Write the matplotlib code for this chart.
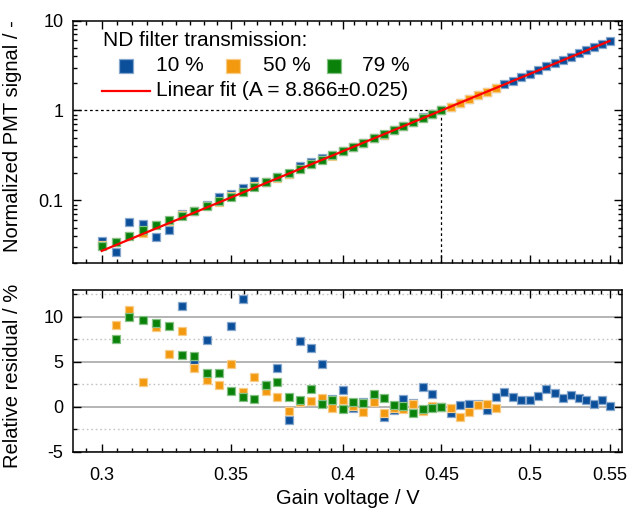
import matplotlib
matplotlib.use('Agg')
import matplotlib.pyplot as plt
from matplotlib.ticker import FixedLocator, FixedFormatter, NullFormatter
from matplotlib.lines import Line2D

plt.rcParams['font.family'] = ['Liberation Sans', 'DejaVu Sans']
plt.rcParams['axes.unicode_minus'] = False

# ---------------- data ----------------
voltage_10 = [0.300, 0.305, 0.310, 0.315, 0.320, 0.325, 0.330, 0.335, 0.340, 0.345,
              0.350, 0.355, 0.360, 0.365, 0.370, 0.375, 0.380, 0.385, 0.390, 0.395,
              0.400, 0.405, 0.410, 0.415, 0.420, 0.425, 0.430, 0.435, 0.440, 0.445,
              0.450, 0.455, 0.460, 0.465, 0.470, 0.475, 0.480, 0.485, 0.490, 0.495,
              0.500, 0.505, 0.510, 0.515, 0.520, 0.525, 0.530, 0.535, 0.540, 0.545,
              0.550]
signal_10 = [0.0358, 0.0265, 0.0572, 0.0543, 0.0397, 0.0471, 0.0711, 0.0765, 0.0895, 0.1105,
             0.1174, 0.1368, 0.1636, 0.1600, 0.1839, 0.1956, 0.2397, 0.2671, 0.2947, 0.3176,
             0.3583, 0.3921, 0.4403, 0.4936, 0.5362, 0.6000, 0.6736, 0.7433, 0.8374, 0.9187,
             1.000, 1.0948, 1.2173, 1.3418, 1.4748, 1.6091, 1.7916, 1.9736, 2.1504, 2.3444,
             2.5628, 2.8126, 3.0917, 3.3575, 3.6366, 3.9720, 4.3075, 4.6712, 5.0485, 5.5046,
             5.9310]
residual_10 = [30.3, -16.7, 55.7, 28.3, -18.4, -15.6, 11.2, 4.7, 7.4, 16.5,
               9.0, 12.0, 18.3, 2.4, 4.3, -1.5, 7.3, 6.5, 4.8, 0.9,
               1.8, -0.2, 0.5, 1.2, -1.15, -0.4, 0.8, 0.4, 2.2, 1.44,
               0.0, -0.74, 0.18, 0.33, 0.3, -0.37, 1.1, 1.59, 1.07, 0.7,
               0.7, 1.18, 1.92, 1.51, 0.92, 1.26, 0.96, 0.74, 0.26, 0.74,
               0.1]

voltage_50 = [0.300, 0.305, 0.310, 0.315, 0.320, 0.325, 0.330, 0.335, 0.340, 0.345,
              0.350, 0.355, 0.360, 0.365, 0.370, 0.375, 0.380, 0.385, 0.390, 0.395,
              0.400, 0.405, 0.410, 0.415, 0.420, 0.425, 0.430, 0.435, 0.440, 0.445,
              0.450, 0.455, 0.460, 0.465, 0.470, 0.475, 0.480]
signal_50 = [0.0318, 0.0347, 0.0407, 0.0435, 0.0530, 0.0591, 0.0693, 0.0762, 0.0858, 0.0971,
             0.1129, 0.1241, 0.1429, 0.1590, 0.1783, 0.1976, 0.2245, 0.2523, 0.2840, 0.3142,
             0.3544, 0.3933, 0.4354, 0.4905, 0.5386, 0.6018, 0.6662, 0.7428, 0.8153, 0.9063,
             1.000, 1.1007, 1.2018, 1.3294, 1.4730, 1.6204, 1.7686]
residual_50 = [15.7, 9.1, 10.8, 2.7, 8.9, 5.9, 8.4, 4.3, 3.0, 2.4,
               4.8, 1.6, 3.3, 1.7, 1.1, -0.5, 0.5, 0.6, 1.0, -0.2,
               0.7, 0.1, -0.6, 0.55, -0.7, -0.1, -0.3, 0.33, -0.5, 0.07,
               0.0, -0.2, -1.1, -0.6, 0.18, 0.33, -0.2]

voltage_79 = [0.300, 0.305, 0.310, 0.315, 0.320, 0.325, 0.330, 0.335, 0.340, 0.345,
              0.350, 0.355, 0.360, 0.365, 0.370, 0.375, 0.380, 0.385, 0.390, 0.395,
              0.400, 0.405, 0.410, 0.415, 0.420, 0.425, 0.430, 0.435, 0.440, 0.445,
              0.450]
signal_79 = [0.0315, 0.0342, 0.0404, 0.0464, 0.0532, 0.0609, 0.0676, 0.0771, 0.0864, 0.0983,
             0.1096, 0.1235, 0.1395, 0.1600, 0.1811, 0.2008, 0.2249, 0.2558, 0.2820, 0.3170,
             0.3509, 0.3949, 0.4400, 0.4945, 0.5474, 0.6034, 0.6689, 0.7354, 0.8169, 0.9039,
             1.000]
residual_79 = [14.7, 7.5, 10.0, 9.7, 9.3, 9.0, 5.8, 5.6, 3.7, 3.7,
               1.7, 1.1, 0.9, 2.4, 2.7, 1.1, 0.7, 2.0, 0.3, 0.7,
               -0.3, 0.5, 0.44, 1.37, 0.92, 0.16, 0.1, -0.67, -0.3, -0.2,
               0.0]

fit_voltage = [0.30, 0.55]
fit_signal = [0.02747, 5.925]

series_labels = ['10 %', '50 %', '79 %']
legend_title = 'ND filter transmission:'
fit_label = 'Linear fit (A = 8.866\u00b10.025)'

x_ticks = [0.30, 0.35, 0.40, 0.45, 0.50, 0.55]
x_ticklabels = ['0.3', '0.35', '0.4', '0.45', '0.5', '0.55']
y1_ticks = [0.1, 1, 10]
y1_ticklabels = ['0.1', '1', '10']
y2_ticks = [-5, 0, 5, 10]
y2_ticklabels = ['-5', '0', '5', '10']
y2_minor = [-2.5, 2.5, 7.5, 12.5]

# ---------------- style ----------------
colors = ['#0b4f9a', '#f2990f', '#0a820a']
edge_colors = ['#86a7cd', '#f8cc87', '#85c185']

W, H = 628, 512
fig = plt.figure(figsize=(W / 100, H / 100), dpi=100)

def fx(px):
    return px / W

def fy(py):
    return 1 - py / H

L, R = 73.3, 621.7
ax1 = fig.add_axes([fx(L), fy(263.3), (R - L) / W, (263.3 - 20.5) / H])
ax2 = fig.add_axes([fx(L), fy(451.5), (R - L) / W, (451.5 - 290.0) / H])

xmin, xmax = 0.29, 0.558
minor_x = []
step = 0.05 / 9
for k in range(-1, 47):
    v = 0.30 + k * step
    if xmin < v < xmax:
        minor_x.append(v)

for ax in (ax1, ax2):
    ax.set_xscale('log')
    ax.set_xlim(xmin, xmax)
    ax.xaxis.set_major_locator(FixedLocator(x_ticks))
    ax.xaxis.set_minor_locator(FixedLocator(minor_x))
    ax.xaxis.set_minor_formatter(NullFormatter())
    ax.tick_params(which='both', direction='in', top=True, right=True,
                   labelsize=13, width=1.0, colors='black')
    ax.tick_params(which='major', length=5.5)
    ax.tick_params(which='minor', length=3)
    ax.tick_params(axis='x', pad=11)
    ax.tick_params(axis='y', pad=7)
    for s in ax.spines.values():
        s.set_linewidth(1.1)

ax1.xaxis.set_major_formatter(NullFormatter())
ax2.xaxis.set_major_formatter(FixedFormatter(x_ticklabels))

# top panel
ax1.set_yscale('log')
ax1.set_ylim(0.02, 10)
ax1.yaxis.set_major_locator(FixedLocator(y1_ticks))
ax1.yaxis.set_major_formatter(FixedFormatter(y1_ticklabels))
ax1.yaxis.set_minor_formatter(NullFormatter())

ax1.plot([xmin, 0.45], [1, 1], color='black', lw=0.9, ls=(0, (2.2, 2.2)), zorder=1)
ax1.plot([0.45, 0.45], [0.02, 1], color='black', lw=0.9, ls=(0, (2.2, 2.2)), zorder=1)

series = [(voltage_10, signal_10, residual_10),
          (voltage_50, signal_50, residual_50),
          (voltage_79, signal_79, residual_79)]
for i, (v, s, r) in enumerate(series):
    ax1.plot(v, s, ls='none', marker='s', ms=5.4, mfc=colors[i], mec=edge_colors[i],
             mew=0.9, zorder=3 + i)
    ax2.plot(v, r, ls='none', marker='s', ms=5.4, mfc=colors[i], mec=edge_colors[i],
             mew=0.9, zorder=3 + i)

ax1.plot(fit_voltage, fit_signal, color='#ff0000', lw=1.6, zorder=10)

ax1.set_ylabel('Normalized PMT signal / -', fontsize=14.5)
ax1.yaxis.set_label_coords((22 - L) / (R - L), 0.525)

# bottom panel
ax2.set_ylim(-5, 13)
ax2.yaxis.set_major_locator(FixedLocator(y2_ticks))
ax2.yaxis.set_major_formatter(FixedFormatter(y2_ticklabels))
ax2.yaxis.set_minor_locator(FixedLocator(y2_minor))
ax2.set_axisbelow(True)
ax2.grid(True, axis='y', which='major', color='#a0a0a0', lw=1.1, ls='-')
ax2.grid(True, axis='y', which='minor', color='#c4c4c4', lw=1.0, ls=(0, (1.2, 2.0)))
ax2.set_ylabel('Relative residual / %', fontsize=14.5)
ax2.yaxis.set_label_coords((22 - L) / (R - L), 0.47)
ax2.set_xlabel('Gain voltage / V', fontsize=14.5, labelpad=4)

# legend (built by hand to follow the reference layout)
fig.text(fx(103), fy(40), legend_title, fontsize=15, ha='left', va='center')
mk_x = [126, 233, 334]
tx_x = [156, 263, 362]
for i in range(3):
    fig.add_artist(Line2D([fx(mk_x[i])], [fy(65.5)], transform=fig.transFigure,
                          ls='none', marker='s', ms=10, mfc=colors[i],
                          mec=edge_colors[i], mew=0.9))
    fig.text(fx(tx_x[i]), fy(65.5), series_labels[i], fontsize=15, ha='left', va='center')
fig.add_artist(Line2D([fx(102), fx(150)], [fy(90.7), fy(90.7)], transform=fig.transFigure,
                      color='#ff0000', lw=1.6))
fig.text(fx(156), fy(90), fit_label, fontsize=15, ha='left', va='center')

fig.savefig('out.png', dpi=100)
